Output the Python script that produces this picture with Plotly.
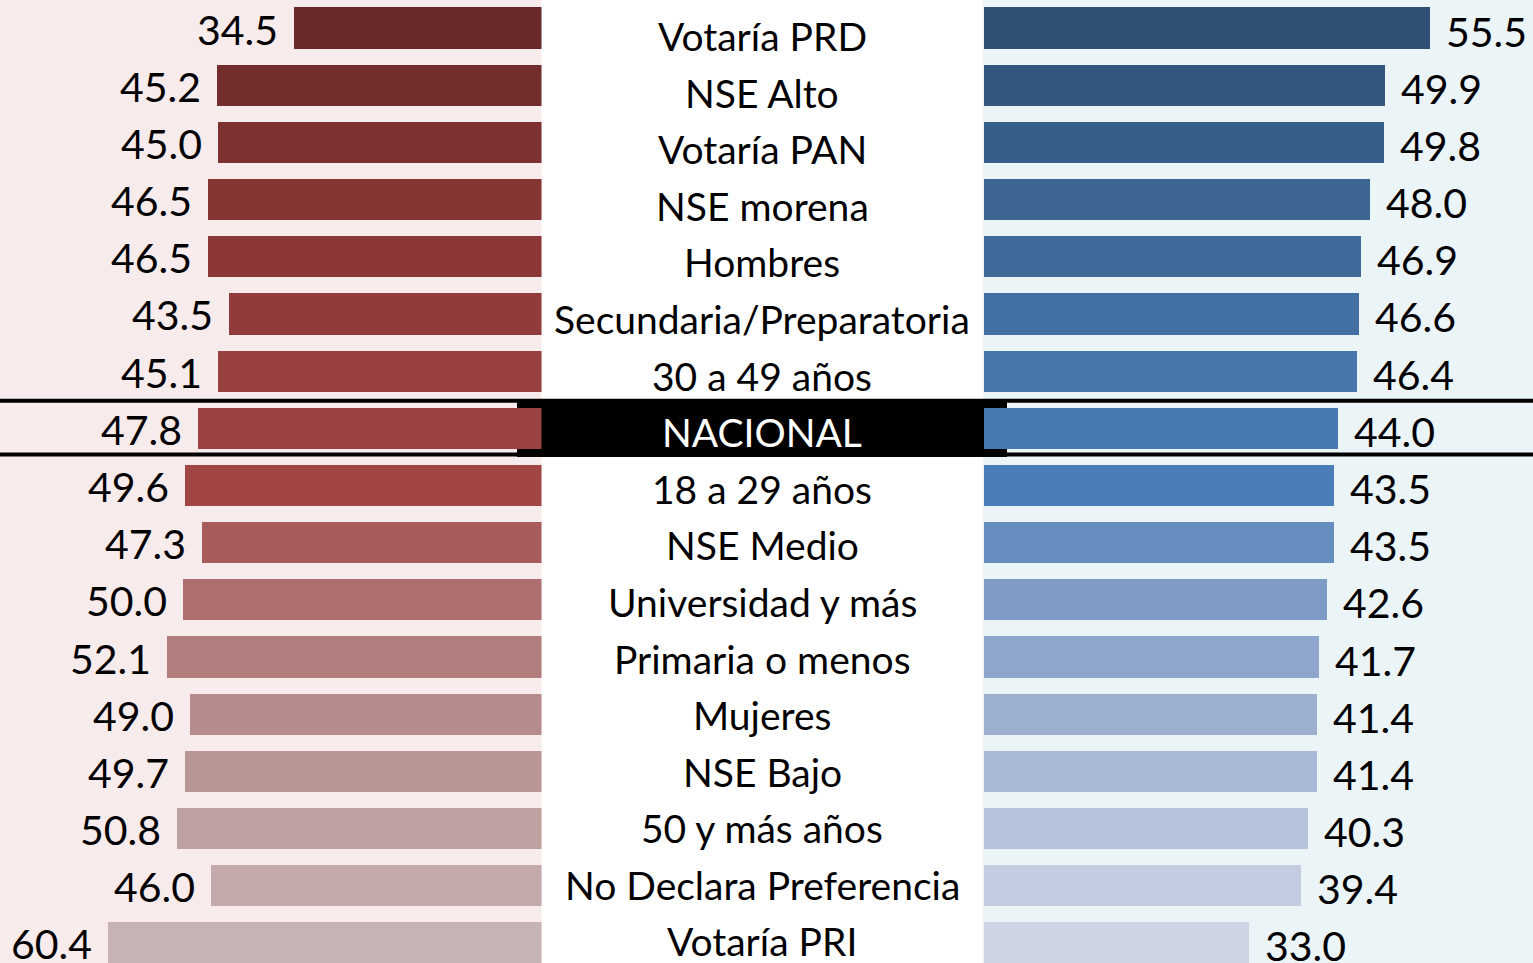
import plotly.graph_objects as go

categories = ["Votaría PRD", "NSE Alto", "Votaría PAN", "NSE morena", "Hombres",
              "Secundaria/Preparatoria", "30 a 49 años", "NACIONAL", "18 a 29 años",
              "NSE Medio", "Universidad y más", "Primaria o menos", "Mujeres",
              "NSE Bajo", "50 y más años", "No Declara Preferencia", "Votaría PRI"]
left_values = [34.5, 45.2, 45.0, 46.5, 46.5, 43.5, 45.1, 47.8, 49.6, 47.3, 50.0,
               52.1, 49.0, 49.7, 50.8, 46.0, 60.4]
right_values = [55.5, 49.9, 49.8, 48.0, 46.9, 46.6, 46.4, 44.0, 43.5, 43.5, 42.6,
                41.7, 41.4, 41.4, 40.3, 39.4, 33.0]
left_colors = ["#6A2A2A", "#742D2D", "#7D3131", "#863535", "#8B3737", "#923B3B",
               "#983F3F", "#9C4242", "#A24545", "#A85B5B", "#AD6E6E", "#B27D7D",
               "#B68B8B", "#B99696", "#BDA0A0", "#C3A9A9", "#C6B3B3"]
right_colors = ["#2F5074", "#33577F", "#375E89", "#3C6592", "#3F6A9A", "#4370A3",
                "#4676AC", "#4979B1", "#4B7EB8", "#688EC0", "#7D9BC5", "#8FA6CC",
                "#9DB0D0", "#A8B8D6", "#B6C3DC", "#C3CCE0", "#CDD5E4"]
highlight = "NACIONAL"

W, H = 1533, 963
FONT = "Lato"
left_end = 541.5 / W
right_start = 984 / W

fig = go.Figure()
fig.add_trace(go.Bar(y=categories, x=left_values, orientation="h",
                     marker=dict(color=left_colors, line=dict(width=0)),
                     width=0.72, xaxis="x", yaxis="y", hoverinfo="x+y"))
fig.add_trace(go.Bar(y=categories, x=right_values, orientation="h",
                     marker=dict(color=right_colors, line=dict(width=0)),
                     width=0.72, xaxis="x2", yaxis="y", hoverinfo="x+y"))

annotations = []
for i, (cat, lv, rv) in enumerate(zip(categories, left_values, right_values)):
    annotations.append(dict(x=lv, y=cat, xref="x", yref="y", text=f"{lv:.1f}",
                            showarrow=False, xanchor="right", xshift=-14, yshift=-1,
                            font=dict(family=FONT, size=41, color="#000000")))
    annotations.append(dict(x=rv, y=cat, xref="x2", yref="y", text=f"{rv:.1f}",
                            showarrow=False, xanchor="left", xshift=14, yshift=-3,
                            font=dict(family=FONT, size=41, color="#000000")))
    annotations.append(dict(x=762 / W, y=i, xref="paper", yref="y2", text=cat,
                            showarrow=False, xanchor="center", yshift=0,
                            font=dict(family=FONT, size=39,
                                      color="#FFFFFF" if cat == highlight else "#000000")))

hi = categories.index(highlight)
shapes = [
    dict(type="rect", xref="paper", yref="paper", x0=0, x1=left_end, y0=0, y1=1,
         fillcolor="#F8EBEB", line=dict(width=0), layer="below"),
    dict(type="rect", xref="paper", yref="paper", x0=983 / W, x1=1, y0=0, y1=1,
         fillcolor="#EBF4F7", line=dict(width=0), layer="below"),
    dict(type="rect", xref="paper", yref="y", x0=517 / W, x1=1007 / W,
         y0=hi - 0.48, y1=hi + 0.5, fillcolor="#000000", line=dict(width=0), layer="below"),
    dict(type="line", xref="paper", yref="y", x0=0, x1=1, y0=hi - 0.48, y1=hi - 0.48,
         line=dict(color="#000000", width=4), layer="below"),
    dict(type="line", xref="paper", yref="y", x0=0, x1=1, y0=hi + 0.46, y1=hi + 0.46,
         line=dict(color="#000000", width=4), layer="below"),
]

fig.update_layout(
    width=W, height=H,
    margin=dict(l=0, r=0, t=0, b=0),
    paper_bgcolor="#FFFFFF", plot_bgcolor="rgba(0,0,0,0)",
    showlegend=False, bargap=0,
    xaxis=dict(domain=[0, left_end], range=[541.5 / 7.18, 0], visible=False,
               showgrid=False, zeroline=False, fixedrange=True),
    xaxis2=dict(domain=[right_start, 1], range=[0, (W - 984) / 8.04], visible=False,
                showgrid=False, zeroline=False, anchor="y", fixedrange=True),
    yaxis=dict(type="category", categoryorder="array", categoryarray=categories,
               range=[16.35, -0.49], visible=False, showgrid=False, zeroline=False,
               fixedrange=True),
    yaxis2=dict(type="linear", overlaying="y", range=[16.38, -0.636], visible=False,
                showgrid=False, zeroline=False, fixedrange=True),
    shapes=shapes,
    annotations=annotations,
    font=dict(family=FONT),
)

fig.write_html("out.html", config={"displayModeBar": False},
               post_script="document.body.style.margin='0';document.body.style.padding='0';"
                           "document.body.style.overflow='hidden';")
